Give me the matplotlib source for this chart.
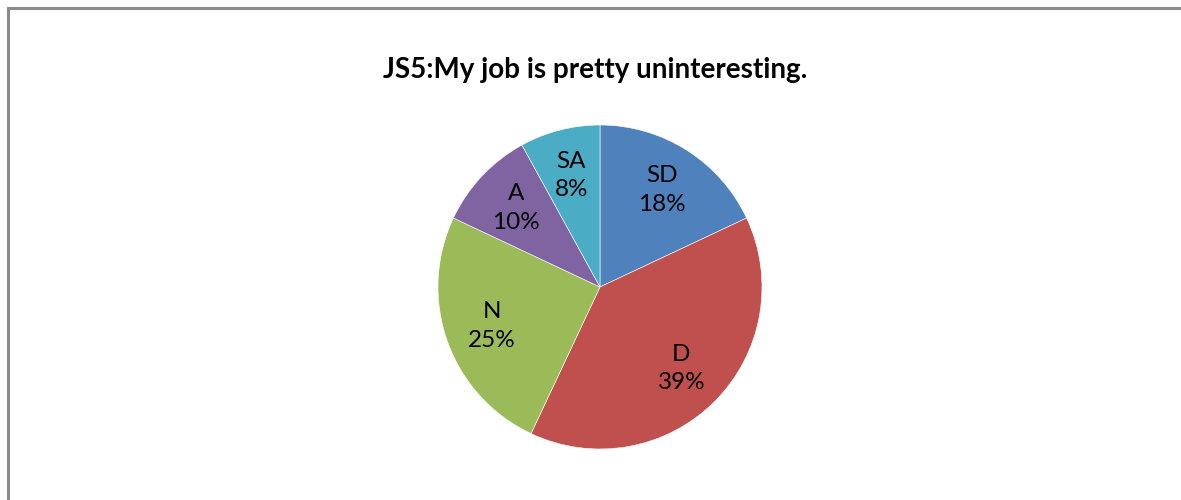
import matplotlib
matplotlib.use('Agg')
import matplotlib.pyplot as plt
from matplotlib.lines import Line2D

plt.rcParams['font.family'] = ['Lato', 'DejaVu Sans']

categories = ['SD', 'D', 'N', 'A', 'SA']
values = [18, 39, 25, 10, 8]
colors = ['#4F81BD', '#C0504D', '#9BBB59', '#8064A2', '#4BACC6']

W, H = 1181, 500
fig = plt.figure(figsize=(W / 100, H / 100), dpi=100)

# chart frame (only left and top edges visible in the crop)
fig.add_artist(Line2D([7.5 / W, 7.5 / W], [0, 1 - 8 / H], color='#8c8c8c', lw=2.2,
                      transform=fig.transFigure))
fig.add_artist(Line2D([7.5 / W, 1], [1 - 8 / H, 1 - 8 / H], color='#8c8c8c', lw=2.2,
                      transform=fig.transFigure))

cx, cy, r = 600, 287, 162
ax = fig.add_axes([(cx - r) / W, (H - cy - r) / H, 2 * r / W, 2 * r / H])
labels = [f'{c}\n{v}%' for c, v in zip(categories, values)]
wedges, texts = ax.pie(values, labels=labels, colors=colors, startangle=90,
                       counterclock=False, labeldistance=0.71,
                       wedgeprops=dict(edgecolor='white', linewidth=0.4),
                       textprops=dict(fontsize=17.5, color='black'))
for t in texts:
    t.set_ha('center')
    t.set_va('center')
    t.set_linespacing(1.45)
ax.set_xlim(-1, 1)
ax.set_ylim(-1, 1)
ax.set_aspect('equal')

fig.text(595 / W, 1 - 70 / H, 'JS5:My job is pretty uninteresting.', ha='center',
         va='center', fontsize=20, fontweight='bold')

fig.savefig('out.png', dpi=100)
